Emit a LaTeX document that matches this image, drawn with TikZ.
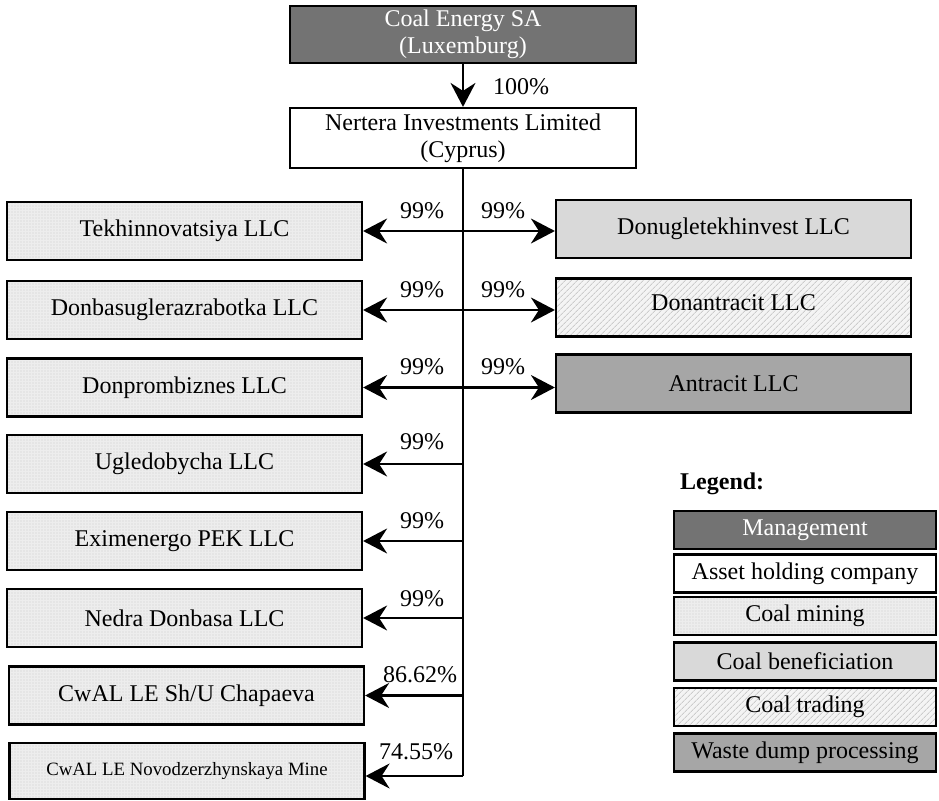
\documentclass[tikz,border=0pt]{standalone}
\usepackage{fontspec}
\setmainfont{Liberation Serif}
\usetikzlibrary{arrows.meta,patterns.meta}
\definecolor{mgmt}{HTML}{737373}
\definecolor{waste}{HTML}{A6A6A6}
\definecolor{benef}{HTML}{D9D9D9}
\definecolor{minebg}{HTML}{EDEDED}
\definecolor{tradebg}{HTML}{F4F4F4}
\begin{document}
\begin{tikzpicture}[x=1pt,y=-1pt,
  box/.style={draw=black, line width=2.2pt, minimum width=355pt, minimum height=58pt, inner sep=0pt, font=\fontsize{24}{27}\selectfont},
  mgmtbox/.style={box, fill=mgmt, text=white},
  holdbox/.style={box, fill=white},
  minebox/.style={box, fill=minebg, postaction={pattern={Dots[distance=3pt,radius=0.6pt]}, pattern color=black!20}, postaction={draw=black, line width=2.2pt}},
  benefbox/.style={box, fill=benef},
  tradebox/.style={box, fill=tradebg, postaction={pattern={Lines[angle=45,distance=4pt,line width=0.9pt]}, pattern color=black!20}, postaction={draw=black, line width=2.2pt}},
  wastebox/.style={box, fill=waste},
  lbox/.style={minimum width=262pt, minimum height=38pt},
  line/.style={line width=2.2pt},
  arr/.style={line width=2.2pt, -{Stealth[length=24pt,width=25pt,inset=8pt]}},
  dbl/.style={line width=2.2pt, {Stealth[length=24pt,width=25pt,inset=8pt]}-{Stealth[length=24pt,width=25pt,inset=8pt]}},
  pct/.style={inner sep=0pt, font=\fontsize{24}{27}\selectfont}
]
\useasboundingbox (0,0) rectangle (939,800);

% top
\node[mgmtbox, minimum width=346pt, minimum height=57pt, align=center] (coal) at (463,34.5) {Coal Energy SA\\(Luxemburg)};
\node[holdbox, minimum width=346pt, minimum height=60pt, align=center] (ner) at (463,138) {Nertera Investments Limited\\(Cyprus)};
\draw[arr] (coal.south) -- (ner.north);
\node[pct] (p0) at (521,87) {100\%};

% left boxes
\node[minebox] (tek) at (184.5,231) {Tekhinnovatsiya LLC};
\node[minebox] (dbu) at (184.5,310) {Donbasuglerazrabotka LLC};
\node[minebox] (dpb) at (184.5,387.5) {Donprombiznes LLC};
\node[minebox] (ugl) at (184.5,464) {Ugledobycha LLC};
\node[minebox] (exi) at (184.5,541) {Eximenergo PEK LLC};
\node[minebox] (ned) at (184.5,618) {Nedra Donbasa LLC};
\node[minebox] (cha) at (186.5,695.5) {CwAL LE Sh/U Chapaeva};
\node[minebox, minimum height=56pt, font=\fontsize{18.8}{22}\selectfont] (nov) at (187,771) {\raisebox{4pt}{CwAL LE Novodzerzhynskaya Mine}};

% right boxes
\node[benefbox] (dut) at (733.5,229) {Donugletekhinvest LLC};
\node[tradebox] (dan) at (733.5,307.5) {\raisebox{9pt}{Donantracit LLC}};
\node[wastebox] (ant) at (733.5,383.5) {Antracit LLC};

% trunk and arrows
\coordinate (tend) at (463,776);
\draw[line] (ner.south) -- (tend);
\draw[dbl] (tek.east) -- (tek.east -| dut.west);
\draw[dbl] (dbu.east) -- (dbu.east -| dan.west);
\draw[dbl] (dpb.east) -- (dpb.east -| ant.west);
\draw[arr] (ugl.east -| tend) -- (ugl.east);
\draw[arr] (exi.east -| tend) -- (exi.east);
\draw[arr] (ned.east -| tend) -- (ned.east);
\draw[arr] (cha.east -| tend) -- (cha.east);
\draw[arr] (tend) -- (tend -| nov.east);

% percentages
\node[pct] (p1l) at (422,211) {99\%};
\node[pct] (p1r) at (503,211) {99\%};
\node[pct] (p2l) at (422,290) {99\%};
\node[pct] (p2r) at (503,290) {99\%};
\node[pct] (p3l) at (422,367) {99\%};
\node[pct] (p3r) at (503,367) {99\%};
\node[pct] (p4) at (422,442) {99\%};
\node[pct] (p5) at (422,521) {99\%};
\node[pct] (p6) at (422,599) {99\%};
\node[pct] (p7) at (420,675) {86.62\%};
\node[pct] (p8) at (416,752) {74.55\%};

% legend
\node[inner sep=0pt, anchor=west, font=\bfseries\fontsize{24}{27}\selectfont] (legt) at (680,484) {Legend:};
\node[mgmtbox, lbox] (lg1) at (805,530) {Management};
\node[holdbox, lbox] (lg2) at (805,573.5) {Asset holding company};
\node[minebox, lbox] (lg3) at (805,616) {Coal mining};
\node[benefbox, lbox] (lg4) at (805,661.5) {Coal beneficiation};
\node[tradebox, lbox] (lg5) at (805,707) {Coal trading};
\node[wastebox, lbox] (lg6) at (805,752.5) {Waste dump processing};
\end{tikzpicture}
\end{document}
